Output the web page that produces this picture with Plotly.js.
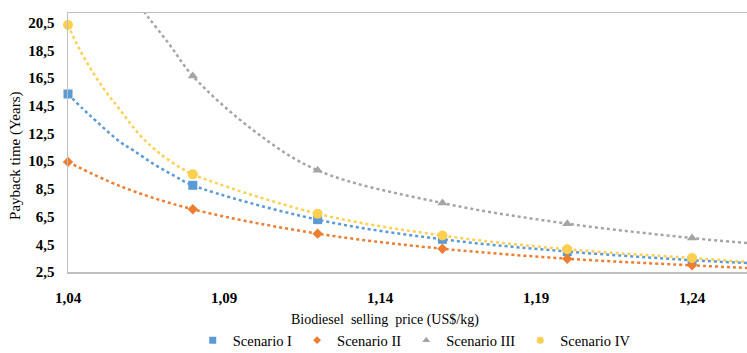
<!DOCTYPE html>
<html>
<head>
<meta charset="utf-8">
<script src="https://cdn.plot.ly/plotly-3.0.1.min.js"></script>
<style>html,body{margin:0;padding:0;background:#fff;}#chart{width:747px;height:353px;}</style>
</head>
<body>
<div id="chart"></div>
<script>
// Data
const prices = [1.04, 1.08, 1.12, 1.16, 1.20, 1.24];
const scenarioI   = [15.35, 8.76, 6.28, 4.86, 3.98, 3.35];
const scenarioII  = [10.45, 7.03, 5.27, 4.18, 3.46, 2.98];
const scenarioIII = [null, 16.65, 9.84, 7.48, 5.99, 4.95];
const scenarioIV  = [20.33, 9.55, 6.71, 5.13, 4.14, 3.51];

// Dotted trend curves (including where they leave the frame)
const trendX_I   = [1.04, 1.0447, 1.049, 1.0567, 1.0609, 1.0673, 1.0738, 1.08, 1.12, 1.16, 1.20, 1.24, 1.2576];
const trendY_I   = [15.35, 14.29, 13.4, 11.89, 11.29, 10.32, 9.48, 8.76, 6.28, 4.86, 3.98, 3.35, 3.15];
const trendX_II  = [1.04, 1.0567, 1.08, 1.12, 1.16, 1.20, 1.24, 1.2576];
const trendY_II  = [10.45, 8.7, 7.03, 5.27, 4.18, 3.46, 2.98, 2.79];
const trendX_III = [1.062, 1.0657, 1.0727, 1.08, 1.0994, 1.12, 1.16, 1.20, 1.24, 1.2576];
const trendY_III = [22.0, 20.9, 18.87, 16.65, 12.73, 9.84, 7.48, 5.99, 4.95, 4.59];
const trendX_IV  = [1.04, 1.0436, 1.0479, 1.0522, 1.0564, 1.0631, 1.0695, 1.0759, 1.08, 1.12, 1.16, 1.20, 1.24, 1.2576];
const trendY_IV  = [20.33, 18.62, 16.94, 15.5, 14.29, 12.37, 11.04, 10.05, 9.55, 6.71, 5.13, 4.14, 3.51, 3.22];

const names  = ['Scenario I', 'Scenario II', 'Scenario III', 'Scenario IV'];
const colors = ['#5B9BD5', '#ED7D31', '#A5A5A5', '#FFD050'];
const symbols = ['square', 'diamond', 'triangle-up', 'circle'];
const sizes = [9, 8, 9, 10];
const legendSizes = [7, 6, 7, 7];
const values = [scenarioI, scenarioII, scenarioIII, scenarioIV];
const trends = [[trendX_I, trendY_I], [trendX_II, trendY_II], [trendX_III, trendY_III], [trendX_IV, trendY_IV]];

const traces = [];
for (let i = 0; i < 4; i++) {
  traces.push({
    x: trends[i][0], y: trends[i][1], mode: 'lines', type: 'scatter',
    line: {color: colors[i], width: 2.5, dash: 'dot', shape: 'spline', smoothing: 1},
    showlegend: false, hoverinfo: 'skip'
  });
}
for (let i = 0; i < 4; i++) {
  traces.push({
    x: prices, y: values[i], mode: 'markers', type: 'scatter', name: names[i],
    marker: {color: colors[i], symbol: symbols[i], size: sizes[i]},
    cliponaxis: false, showlegend: false
  });
}
// legend entries (small symbols as in the reference)
for (let i = 0; i < 4; i++) {
  traces.push({
    x: [null], y: [null], mode: 'markers', type: 'scatter', name: names[i],
    marker: {color: colors[i], symbol: symbols[i], size: legendSizes[i]},
    showlegend: true
  });
}

const serif = "Liberation Serif";
const layout = {
  width: 747, height: 353,
  margin: {l: 68, r: 0, t: 13, b: 81, autoexpand: false},
  paper_bgcolor: '#fff', plot_bgcolor: '#fff',
  separators: ',.',
  showlegend: true,
  font: {family: serif, color: '#000'},
  xaxis: {
    range: [1.04, 1.2576],
    tickvals: [1.04, 1.09, 1.14, 1.19, 1.24],
    tickformat: '.2f',
    tickfont: {family: serif, size: 15, color: '#000', weight: 'bold'},
    showgrid: false, zeroline: false,
    showline: true, linecolor: '#BFBFBF', linewidth: 1.5, mirror: true,
    ticks: '', ticklabelstandoff: 11
  },
  yaxis: {
    range: [2.5, 21.2],
    tickvals: [2.5, 4.5, 6.5, 8.5, 10.5, 12.5, 14.5, 16.5, 18.5, 20.5],
    tickformat: '.1f',
    tickfont: {family: serif, size: 15, color: '#000', weight: 'bold'},
    showgrid: false, zeroline: false,
    showline: true, linecolor: '#BFBFBF', linewidth: 1.5,
    ticks: '', ticklabelstandoff: 9
  },
  legend: {
    orientation: 'h', xref: 'container', yref: 'container',
    x: 0.258, xanchor: 'left', y: 0.036, yanchor: 'middle',
    font: {family: serif, size: 14.5, color: '#000'},
    itemwidth: 30, tracegroupgap: 0
  },
  annotations: [{
    text: 'Biodiesel\u00a0 selling\u00a0 price (US$/kg)', xref: 'paper', yref: 'paper',
    x: 0.467, y: -0.185, xanchor: 'center', yanchor: 'middle', showarrow: false,
    font: {family: serif, size: 14, color: '#000'}
  }, {
    text: 'Payback time (Years)', xref: 'paper', yref: 'paper', textangle: -90,
    x: -0.0766, y: 0.448, xanchor: 'center', yanchor: 'middle', showarrow: false,
    font: {family: serif, size: 15, color: '#000'}
  }]
};

Plotly.newPlot('chart', traces, layout, {displayModeBar: false, staticPlot: true});
</script>
</body>
</html>
